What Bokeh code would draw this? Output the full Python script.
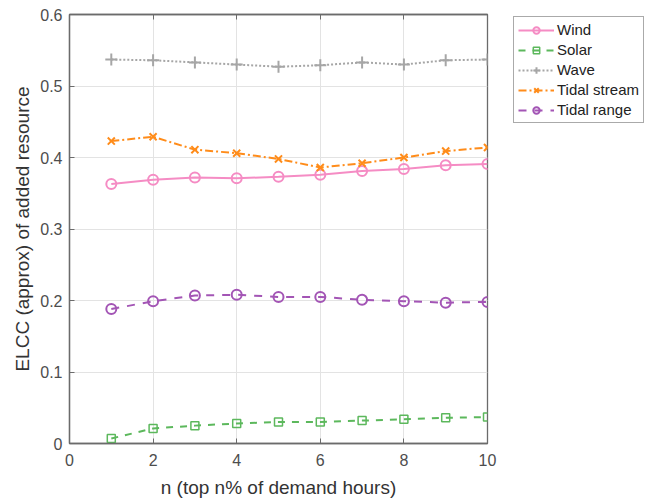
from bokeh.plotting import figure
from bokeh.models import (Range1d, LinearAxis, Legend, LegendItem, FixedTicker)
from bokeh.embed import file_html
from bokeh.resources import INLINE

n = [1, 2, 3, 4, 5, 6, 7, 8, 9, 10]
wind = [0.363, 0.369, 0.372, 0.371, 0.373, 0.376, 0.381, 0.384, 0.389, 0.391]
solar = [0.007, 0.021, 0.025, 0.028, 0.030, 0.030, 0.032, 0.034, 0.036, 0.037]
wave = [0.537, 0.536, 0.533, 0.530, 0.527, 0.529, 0.533, 0.530, 0.536, 0.537]
tidal_stream = [0.423, 0.429, 0.411, 0.406, 0.398, 0.386, 0.392, 0.400, 0.409, 0.414]
tidal_range = [0.188, 0.199, 0.207, 0.208, 0.205, 0.205, 0.201, 0.199, 0.197, 0.198]

x_ticks = [0, 2, 4, 6, 8, 10]
y_ticks = [0, 0.1, 0.2, 0.3, 0.4, 0.5, 0.6]

FONT = "Liberation Sans"
AX = "#6b6b6b"
TXT = "#4d4d4d"

p = figure(frame_width=418, frame_height=429, output_backend="svg", toolbar_location=None,
           x_range=Range1d(0, 10), y_range=Range1d(0, 0.6),
           min_border_left=69, min_border_right=0, min_border_top=14, min_border_bottom=56)
p.outline_line_color = AX
p.outline_line_width = 1.3
p.background_fill_color = "white"

for ax in (p.xaxis[0], p.yaxis[0]):
    ax.major_tick_in = 5
    ax.major_tick_out = 0
    ax.minor_tick_in = 0
    ax.minor_tick_out = 0
    ax.axis_line_color = AX
    ax.axis_line_width = 1.3
    ax.major_tick_line_color = AX
    ax.major_label_text_font = FONT
    ax.major_label_text_font_size = "16px"
    ax.major_label_text_color = TXT
    ax.axis_label_text_font = FONT
    ax.axis_label_text_font_size = "19px"
    ax.axis_label_text_font_style = "normal"
    ax.axis_label_text_color = "#333333"

p.xaxis[0].ticker = FixedTicker(ticks=x_ticks)
p.yaxis[0].ticker = FixedTicker(ticks=y_ticks)
p.yaxis[0].major_label_overrides = {0: "0", 0.1: "0.1", 0.2: "0.2", 0.3: "0.3", 0.4: "0.4", 0.5: "0.5", 0.6: "0.6"}
p.xaxis[0].axis_label = "n (top n% of demand hours)"
p.yaxis[0].axis_label = "ELCC (approx) of added resource"
p.xaxis[0].major_label_standoff = 10
p.yaxis[0].major_label_standoff = 7
p.xaxis[0].axis_label_standoff = 8
p.yaxis[0].axis_label_standoff = 4

p.xgrid.ticker = FixedTicker(ticks=x_ticks)
p.ygrid.ticker = FixedTicker(ticks=y_ticks)
p.grid.grid_line_color = "#e3e3e3"
p.grid.grid_line_width = 1

c_wind = "#f58cc4"
c_solar = "#5cb85c"
c_wave = "#a6a6a6"
c_ts = "#ff8c1a"
c_tr = "#a355b5"

r1 = p.line(n, wind, line_color=c_wind, line_width=2)
m1 = p.scatter(n, wind, marker="circle", size=10, fill_color=None, line_color=c_wind, line_width=2)
r2 = p.line(n, solar, line_color=c_solar, line_width=2, line_dash="7 7")
m2 = p.scatter(n, solar, marker="square", size=8, fill_color=None, line_color=c_solar, line_width=1.5)
r3 = p.line(n, wave, line_color=c_wave, line_width=2, line_dash="2 2")
m3 = p.scatter(n, wave, marker="cross", size=12, fill_color=None, line_color=c_wave, line_width=2)
r4 = p.line(n, tidal_stream, line_color=c_ts, line_width=2, line_dash="8 3 2 3")
m4 = p.scatter(n, tidal_stream, marker="x", size=10, fill_color=None, line_color=c_ts, line_width=2)
r5 = p.line(n, tidal_range, line_color=c_tr, line_width=2, line_dash="8 8")
m5 = p.scatter(n, tidal_range, marker="circle", size=10, fill_color=None, line_color=c_tr, line_width=2)

a_top = LinearAxis(major_label_text_font_size="0px", major_tick_in=5, major_tick_out=0,
                   minor_tick_in=0, minor_tick_out=0, axis_line_color=AX,
                   axis_line_width=1.3, major_tick_line_color=AX,
                   ticker=FixedTicker(ticks=x_ticks), major_label_standoff=0)
p.add_layout(a_top, "above")

legend = Legend(items=[
    LegendItem(label="Wind", renderers=[r1, m1]),
    LegendItem(label="Solar", renderers=[r2, m2]),
    LegendItem(label="Wave", renderers=[r3, m3]),
    LegendItem(label="Tidal stream", renderers=[r4, m4]),
    LegendItem(label="Tidal range", renderers=[r5, m5]),
], location=(26, 320))
legend.label_text_font = FONT
legend.label_text_font_size = "15px"
legend.label_text_color = "#222222"
legend.border_line_color = "#555555"
legend.border_line_width = 1
legend.glyph_width = 36
legend.glyph_height = 16
legend.label_height = 16
legend.spacing = 3
legend.padding = 4
legend.margin = 0
legend.label_standoff = 3
p.add_layout(legend, "right")

open("out.html", "w").write(file_html(p, INLINE))
